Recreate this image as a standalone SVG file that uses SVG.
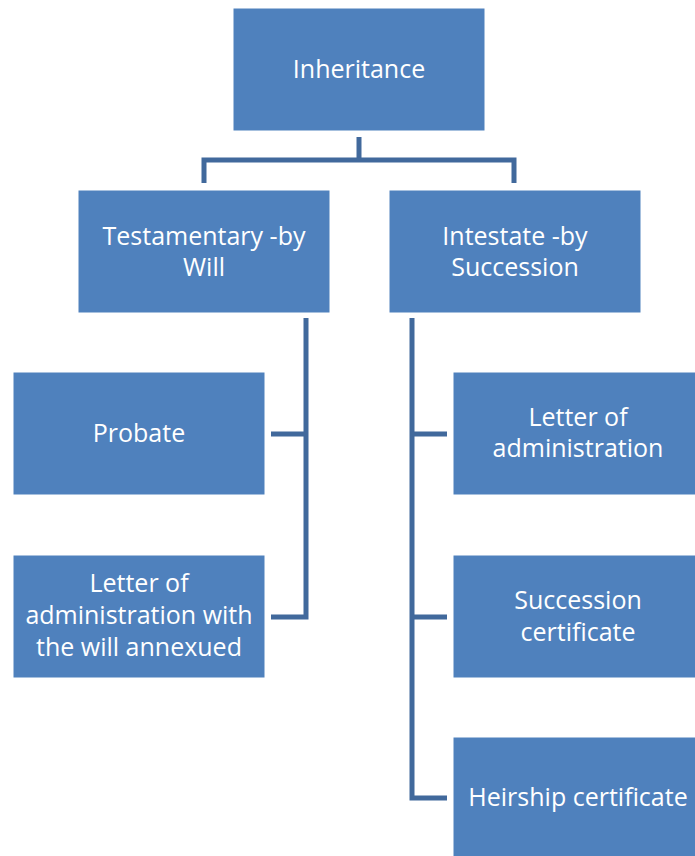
<svg xmlns="http://www.w3.org/2000/svg" width="695" height="856" viewBox="0 0 695 856">
<style>
.box{fill:#4F81BD;stroke:#FFFFFF;stroke-width:1}
.t{font-family:"Open Sans","Noto Sans",sans-serif;font-size:25px;fill:#FFFFFF;text-anchor:middle}
.c{fill:none;stroke:#41699C;stroke-width:5;stroke-linejoin:miter}
</style>
<rect width="695" height="856" fill="#FFFFFF"/>
<g id="connectors">
<path class="c" d="M359,137 V160"/>
<path class="c" d="M204,183 V160 H514 V183"/>
<path class="c" d="M306,318 V617 H271"/>
<path class="c" d="M271,434 H306"/>
<path class="c" d="M412,318 V798 H447"/>
<path class="c" d="M412,434 H447"/>
<path class="c" d="M412,617 H447"/>
</g>
<g id="inheritance">
<rect class="box" x="233" y="8" width="252" height="123"/>
<text class="t" x="359" y="78">Inheritance</text>
</g>
<g id="testamentary">
<rect class="box" x="78" y="190" width="252" height="123"/>
<text class="t" x="204" y="245">Testamentary -by</text>
<text class="t" x="204" y="276">Will</text>
</g>
<g id="intestate">
<rect class="box" x="389" y="190" width="252" height="123"/>
<text class="t" x="515" y="245">Intestate -by</text>
<text class="t" x="515" y="276">Succession</text>
</g>
<g id="probate">
<rect class="box" x="13" y="372" width="252" height="123"/>
<text class="t" x="139" y="442">Probate</text>
</g>
<g id="letter-will">
<rect class="box" x="13" y="555" width="252" height="123"/>
<text class="t" x="139" y="592">Letter of</text>
<text class="t" x="139" y="624">administration with</text>
<text class="t" x="139" y="656">the will annexued</text>
</g>
<g id="letter-admin">
<rect class="box" x="453" y="372" width="252" height="123"/>
<text class="t" x="578" y="426">Letter of</text>
<text class="t" x="578" y="457">administration</text>
</g>
<g id="succession-cert">
<rect class="box" x="453" y="555" width="252" height="123"/>
<text class="t" x="578" y="609">Succession</text>
<text class="t" x="578" y="641">certificate</text>
</g>
<g id="heirship">
<rect class="box" x="453" y="737" width="252" height="123"/>
<text class="t" x="578" y="806">Heirship certificate</text>
</g>
</svg>
